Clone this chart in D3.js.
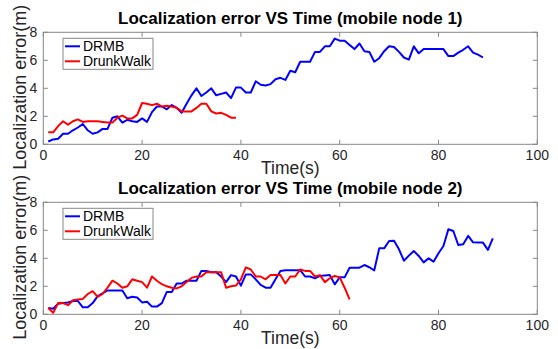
<!DOCTYPE html>
<html>
<head>
<meta charset="utf-8">
<script src="https://cdn.jsdelivr.net/npm/d3@7"></script>
<style>
  body { margin: 0; background: #fff; }
  svg { display: block; font-family: "Liberation Sans", Arial, Helvetica, sans-serif; }
</style>
</head>
<body>
<div id="chart"></div>
<script>
// node 1 readings (one per second)
const drmb1 = [0.2, 0.35, 0.4, 0.75, 0.75, 1.0, 1.2, 1.45, 1.0, 0.75, 0.85, 1.1, 1.1, 1.9, 2.0, 1.55, 1.75, 1.65, 1.6, 1.85,
  1.6, 2.3, 2.7, 2.7, 2.5, 2.8, 2.6, 2.25, 2.9, 3.5, 4.0, 3.45, 3.7, 4.0, 3.5, 3.6, 3.7, 3.3, 4.05, 4.05,
  3.7, 3.7, 4.5, 4.25, 4.2, 4.3, 4.65, 4.75, 4.6, 5.25, 5.15, 5.9, 5.9, 5.9, 6.6, 6.6, 7.0, 7.0, 7.55, 7.4,
  7.4, 7.1, 6.8, 7.2, 6.65, 6.6, 5.9, 6.15, 6.65, 7.0, 6.95, 6.6, 6.2, 6.05, 7.0, 6.5, 6.8, 6.8, 6.8, 6.8,
  6.8, 6.3, 6.3, 6.55, 6.75, 7.0, 6.55, 6.4, 6.2];
const walk1 = [0.86, 0.86, 1.3, 1.65, 1.4, 1.65, 1.78, 1.6, 1.65, 1.65, 1.65, 1.6, 1.55, 1.55, 1.9, 2.05, 1.85, 1.85, 2.1, 2.95,
  2.9, 2.8, 2.9, 2.7, 2.75, 2.7, 2.6, 2.35, 2.35, 2.35, 2.6, 2.9, 2.9, 2.35, 2.2, 2.25, 2.1, 1.9, 1.9];

// node 2 readings
const drmb2 = [0.45, 0.4, 0.75, 0.8, 0.85, 0.95, 0.95, 0.5, 0.5, 0.8, 1.3, 1.5, 1.7, 1.7, 1.7, 1.7, 1.15, 1.25, 1.2, 0.85,
  0.9, 0.55, 0.55, 0.8, 1.6, 1.6, 2.2, 2.2, 2.4, 2.4, 2.4, 3.1, 3.1, 3.0, 3.0, 2.7, 2.3, 2.8, 2.7, 2.05,
  2.85, 2.85, 2.5, 2.1, 1.9, 1.9, 2.5, 3.1, 3.15, 3.15, 3.15, 3.15, 2.7, 2.7, 2.57, 2.74, 2.78, 2.8, 2.14, 2.64,
  2.64, 3.33, 3.33, 3.33, 3.52, 3.36, 3.14, 4.71, 4.71, 5.24, 5.26, 4.64, 3.83, 4.19, 4.52, 4.17, 3.71, 4.0, 3.76, 4.36,
  4.88, 6.07, 5.95, 4.95, 5.0, 5.6, 5.14, 5.12, 5.12, 4.6, 5.43];
const walk2 = [0.45, 0.1, 0.8, 0.8, 0.65, 1.0, 1.05, 1.1, 1.45, 1.65, 1.25, 1.45, 1.9, 2.4, 2.2, 1.9, 2.0, 2.5, 2.4, 2.3,
  1.9, 2.7, 2.4, 2.15, 2.0, 1.9, 1.85, 2.0, 2.3, 2.6, 2.7, 2.7, 3.0, 3.0, 3.0, 3.0, 1.9, 2.0, 2.05, 2.5,
  3.35, 3.2, 2.7, 2.7, 2.5, 2.8, 2.8, 2.8, 2.2, 2.7, 2.7, 3.2, 3.1, 3.1, 2.7, 2.8, 2.3, 2.57, 2.74, 2.64,
  1.9, 1.07];

const xTicks = [0, 20, 40, 60, 80, 100];
const yTicks = [0, 2, 4, 6, 8];
const seriesNames = ['DRMB', 'DrunkWalk'];
const seriesColors = ['#0000ff', '#ff0000'];

const W = 558, H = 349;
const svg = d3.select('#chart').append('svg').attr('width', W).attr('height', H);

const x = d3.scaleLinear().domain([0, 100]).range([43.3, 537.3]);

function panel(top, title, series) {
  const y = d3.scaleLinear().domain([0, 8]).range([top + 112, top]);
  const g = svg.append('g');
  const left = x(0), right = x(100), bottom = y(0);

  // data lines
  const line = d3.line().x((d, i) => x(i + 1)).y(d => y(d));
  series.forEach((s, k) => {
    g.append('path').datum(s)
      .attr('fill', 'none')
      .attr('stroke', seriesColors[k])
      .attr('stroke-width', 2)
      .attr('stroke-linejoin', 'round')
      .attr('d', line);
  });

  // frame + ticks
  g.append('rect').attr('x', left).attr('y', top).attr('width', right - left).attr('height', bottom - top)
    .attr('fill', 'none').attr('stroke', '#878787').attr('stroke-width', 1);
  xTicks.forEach(t => {
    g.append('line').attr('x1', x(t)).attr('x2', x(t)).attr('y1', bottom).attr('y2', bottom - 4.5).attr('stroke', '#878787');
    g.append('line').attr('x1', x(t)).attr('x2', x(t)).attr('y1', top).attr('y2', top + 4.5).attr('stroke', '#878787');
    g.append('text').attr('x', x(t)).attr('y', bottom + 16).attr('text-anchor', 'middle')
      .attr('font-size', 14).attr('fill', '#262626').text(t);
  });
  yTicks.forEach(t => {
    g.append('line').attr('x1', left).attr('x2', left + 4.5).attr('y1', y(t)).attr('y2', y(t)).attr('stroke', '#878787');
    g.append('line').attr('x1', right).attr('x2', right - 4.5).attr('y1', y(t)).attr('y2', y(t)).attr('stroke', '#878787');
    g.append('text').attr('x', left - 6).attr('y', y(t) + 5).attr('text-anchor', 'end')
      .attr('font-size', 14).attr('fill', '#262626').text(t);
  });

  // labels
  g.append('text').attr('x', (left + right) / 2).attr('y', top - 8).attr('text-anchor', 'middle')
    .attr('font-size', 17).attr('font-weight', 'bold').attr('fill', '#000').text(title);
  g.append('text').attr('x', (left + right) / 2).attr('y', bottom + 30).attr('text-anchor', 'middle')
    .attr('font-size', 17.5).attr('fill', '#262626').text('Time(s)');
  g.append('text').attr('transform', `translate(26,${(top + bottom) / 2 - 1}) rotate(-90)`)
    .attr('text-anchor', 'middle').attr('font-size', 18).attr('fill', '#262626').text('Localization error(m)');

  // legend
  const lg = g.append('g').attr('transform', `translate(63,${top + 6})`);
  lg.append('rect').attr('width', 90).attr('height', 31).attr('fill', '#fff').attr('stroke', '#878787');
  seriesNames.forEach((n, k) => {
    const ly = 8 + k * 15;
    lg.append('line').attr('x1', 2).attr('x2', 17).attr('y1', ly).attr('y2', ly)
      .attr('stroke', seriesColors[k]).attr('stroke-width', 2);
    lg.append('text').attr('x', 20).attr('y', ly + 5).attr('font-size', 14).attr('fill', '#000').text(n);
  });
}

panel(32.3, 'Localization error VS Time (mobile node 1)', [drmb1, walk1]);
panel(202.3, 'Localization error VS Time (mobile node 2)', [drmb2, walk2]);
</script>
</body>
</html>
